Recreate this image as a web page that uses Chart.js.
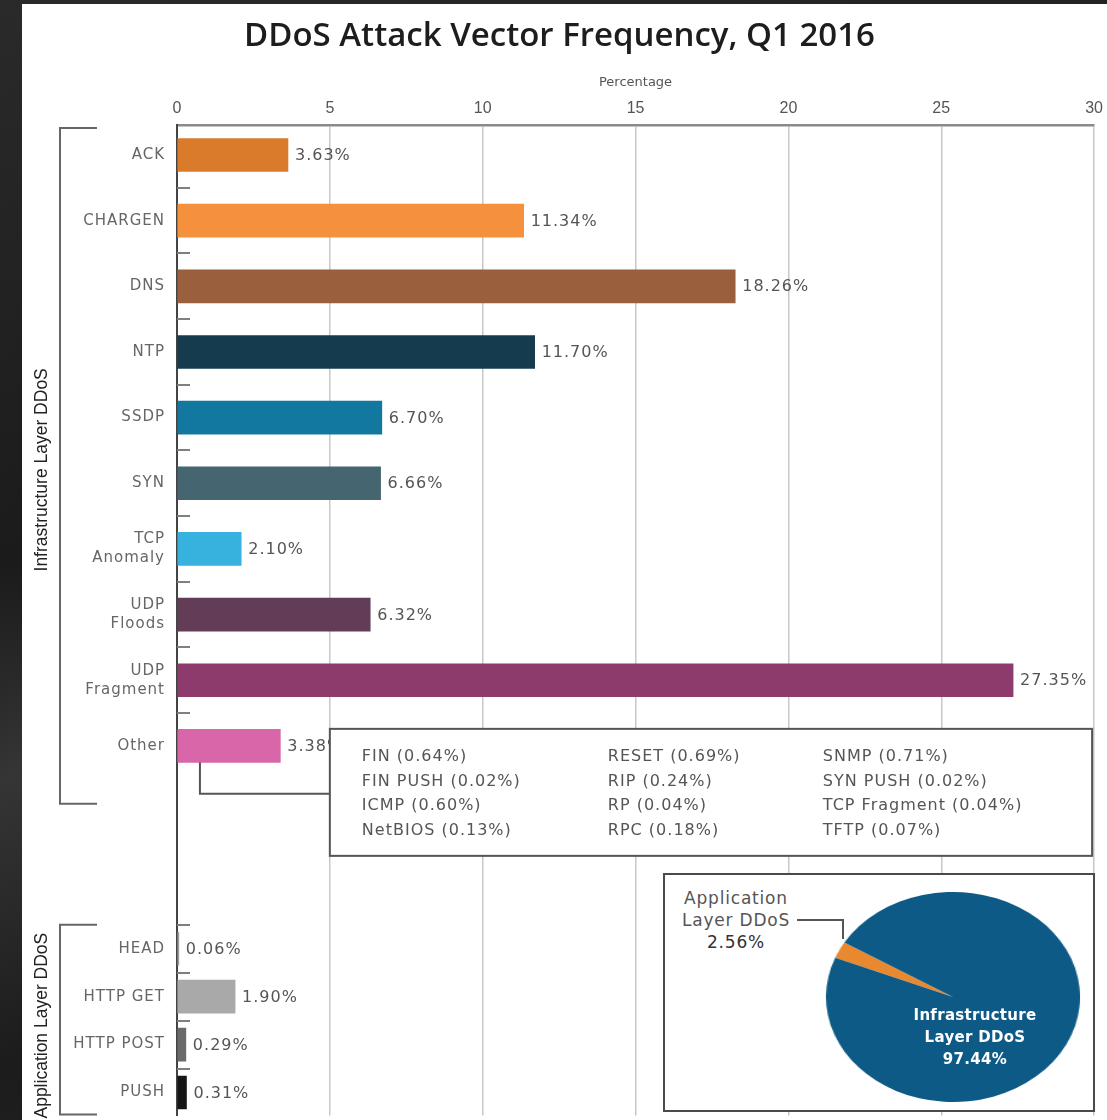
<!DOCTYPE html>
<html>
<head>
<meta charset="utf-8">
<title>DDoS Attack Vector Frequency, Q1 2016</title>
<script src="https://cdn.jsdelivr.net/npm/chart.js@4.4.1/dist/chart.umd.min.js"></script>
<style>
  html, body { margin: 0; padding: 0; width: 1107px; height: 1120px; overflow: hidden; }
  body { position: relative; background: linear-gradient(165deg, #2a2a2a 0%, #1b1b1b 40%, #353535 55%, #1c1c1c 75%, #262626 100%); }
  #panel { position: absolute; left: 22px; top: 4px; width: 1100px; height: 1140px; background: #fff; }
  #bars { position: absolute; left: 0; top: 0; }
  #pieBox { position: absolute; left: 641px; top: 869px; width: 428px; height: 235px; border: 2px solid #4a4a4a; background: #fff; }
  #pie { position: absolute; left: 183px; top: 17px; transform: scaleX(1.21); }
  .note { position: absolute; text-align: center; font: 17px "DejaVu Sans", sans-serif; letter-spacing: 0.8px; line-height: 22px; }
  #appNote { left: 0; top: 12px; width: 142px; color: #555; }
  #appNote b { font-weight: normal; color: #333; }
  #appLead { position: absolute; left: 132px; top: 44px; width: 45px; height: 18px; border-top: 2px solid #555; border-right: 2px solid #555; }
  #infraNote { left: 225px; top: 129px; width: 170px; color: #fff; font-weight: bold; font-size: 15px; letter-spacing: 0.3px; }
</style>
</head>
<body>
<div id="panel">
  <canvas id="bars" width="1088" height="1133"></canvas>
  <div id="pieBox">
    <canvas id="pie" width="210" height="210"></canvas>
    <div id="appNote" class="note"></div>
    <div id="appLead"></div>
    <div id="infraNote" class="note"></div>
  </div>
</div>
<script>
const infraLabels = ['ACK', 'CHARGEN', 'DNS', 'NTP', 'SSDP', 'SYN', ['TCP', 'Anomaly'], ['UDP', 'Floods'], ['UDP', 'Fragment'], 'Other'];
const infraValues = [3.63, 11.34, 18.26, 11.70, 6.70, 6.66, 2.10, 6.32, 27.35, 3.38];
const appLabels = ['HEAD', 'HTTP GET', 'HTTP POST', 'PUSH'];
const appValues = [0.06, 1.90, 0.29, 0.31];
const otherVectors = ['FIN', 'FIN PUSH', 'ICMP', 'NetBIOS', 'RESET', 'RIP', 'RP', 'RPC', 'SNMP', 'SYN PUSH', 'TCP Fragment', 'TFTP'];
const otherShares = [0.64, 0.02, 0.60, 0.13, 0.69, 0.24, 0.04, 0.18, 0.71, 0.02, 0.04, 0.07];
const layerLabels = ['Application Layer DDoS', 'Infrastructure Layer DDoS'];
const layerShares = [2.56, 97.44];

const infraColors = ['#d97b2b', '#f5913c', '#9a5f3c', '#143c4e', '#13789f', '#456570', '#37b1de', '#633c58', '#8d3a6c', '#d866a8'];
const appColors = ['#9a9a9a', '#a9a9a9', '#6a6a6a', '#151515'];
const layerColors = ['#e8892f', '#0d5a87'];

// infrastructure rows sit one unit apart, application rows are packed tighter below a gap
const APP_START = 12.09;
const APP_STEP = 0.73;
const BAR = 33;

const rowPos = infraValues.map((v, i) => i).concat(appValues.map((v, j) => APP_START + j * APP_STEP));
const rowLabels = infraLabels.concat(appLabels);
const values = infraValues.concat(appValues);
const pct = v => v.toFixed(2) + '%';

// wider tracking for the category names
const spacedLabels = {
  id: 'spacedLabels',
  beforeDraw(chart) {
    const ys = chart.scales.y;
    if (ys.drawLabels.spaced) return;
    const base = ys.drawLabels;
    ys.drawLabels = function (area) {
      this.ctx.save();
      this.ctx.letterSpacing = '1px';
      base.call(this, area);
      this.ctx.restore();
    };
    ys.drawLabels.spaced = true;
  }
};

const decorations = {
  id: 'decorations',
  afterDraw(chart) {
    const { ctx, chartArea: area, scales: { x, y } } = chart;
    const bars = chart.getDatasetMeta(0).data;
    ctx.save();

    // short marks between rows on the category axis
    ctx.strokeStyle = '#808080';
    ctx.lineWidth = 2;
    const marks = [];
    for (let i = 1; i < infraValues.length; i++) marks.push(i - 0.5);
    for (let j = 0; j < appValues.length; j++) marks.push(APP_START + (j - 0.5) * APP_STEP);
    marks.forEach(v => {
      const py = Math.round(y.getPixelForValue(v));
      ctx.beginPath();
      ctx.moveTo(area.left, py);
      ctx.lineTo(area.left + 13, py);
      ctx.stroke();
    });

    // value at the end of each bar
    ctx.font = '16px "DejaVu Sans"';
    ctx.letterSpacing = '1px';
    ctx.fillStyle = '#555';
    ctx.textAlign = 'left';
    ctx.textBaseline = 'middle';
    bars.forEach((bar, i) => ctx.fillText(pct(values[i]), bar.x + 7, bar.y + 1));

    // group brackets on the left
    const bx = area.left - 117;
    const groups = [
      { name: 'Infrastructure Layer DDoS', top: area.top + 3, bottom: y.getPixelForValue(infraValues.length - 0.5) + 25, shift: 4 },
      { name: 'Application Layer DDoS', top: y.getPixelForValue(APP_START - APP_STEP / 2), bottom: area.bottom - 1, shift: 6 }
    ];
    ctx.strokeStyle = '#666';
    ctx.lineWidth = 2;
    ctx.letterSpacing = '0px';
    ctx.font = '17.5px "Liberation Sans"';
    ctx.fillStyle = '#222';
    ctx.textAlign = 'center';
    groups.forEach(g => {
      ctx.beginPath();
      ctx.moveTo(bx + 37, g.top);
      ctx.lineTo(bx, g.top);
      ctx.lineTo(bx, g.bottom);
      ctx.lineTo(bx + 37, g.bottom);
      ctx.stroke();
      ctx.save();
      ctx.translate(bx - 18, (g.top + g.bottom) / 2 + g.shift);
      ctx.rotate(-Math.PI / 2);
      ctx.fillText(g.name, 0, 0);
      ctx.restore();
    });

    // breakdown of the "Other" bar
    const other = bars[infraValues.length - 1];
    const boxL = x.getPixelForValue(5);
    const boxT = y.getPixelForValue(infraValues.length - 1) - 17;
    const boxW = area.right - 2 - boxL;
    const boxH = 127;
    ctx.fillStyle = '#fff';
    ctx.fillRect(boxL, boxT, boxW, boxH);
    ctx.strokeStyle = '#555';
    ctx.strokeRect(boxL, boxT, boxW, boxH);
    const lx = x.getPixelForValue(0.75);
    ctx.beginPath();
    ctx.moveTo(lx, other.y + BAR / 2);
    ctx.lineTo(lx, boxT + 65);
    ctx.lineTo(boxL, boxT + 65);
    ctx.stroke();

    ctx.font = '16px "DejaVu Sans"';
    ctx.letterSpacing = '1px';
    ctx.fillStyle = '#555';
    ctx.textAlign = 'left';
    const colX = [32, 278, 493];
    otherVectors.forEach((name, k) => {
      const col = Math.floor(k / 4), row = k % 4;
      ctx.fillText(name + ' (' + pct(otherShares[k]) + ')', boxL + colX[col], boxT + 28 + row * 24.7);
    });
    ctx.restore();
  }
};

new Chart(document.getElementById('bars'), {
  type: 'bar',
  data: {
    datasets: [{
      data: values.map((v, i) => ({ x: v, y: rowPos[i] })),
      backgroundColor: infraColors.concat(appColors),
      barThickness: BAR,
      borderWidth: 0
    }]
  },
  options: {
    indexAxis: 'y',
    responsive: false,
    animation: false,
    layout: { padding: { left: 0, top: 0, right: 13, bottom: 0 } },
    scales: {
      x: {
        position: 'top',
        min: 0,
        max: 30,
        ticks: { stepSize: 5, padding: 7, color: '#555', font: { family: 'Liberation Sans', size: 16 } },
        grid: { color: '#c8c8c8', lineWidth: 1.5, drawTicks: false },
        border: { color: '#8a8a8a', width: 2.5 },
        title: { display: true, text: 'Percentage', color: '#555', padding: { top: 11, bottom: 0 }, font: { family: 'DejaVu Sans', size: 13 } },
        afterFit: scale => { scale.height = 60.8; }
      },
      y: {
        type: 'linear',
        reverse: true,
        offset: false,
        min: -0.457,
        max: 14.63,
        afterBuildTicks: scale => { scale.ticks = rowPos.map(v => ({ value: v })); },
        ticks: {
          autoSkip: false,
          padding: 12,
          color: '#666',
          font: { family: 'DejaVu Sans', size: 15, lineHeight: 1.27 },
          callback: (v, i) => rowLabels[i]
        },
        grid: { display: false, drawTicks: false },
        border: { color: '#444', width: 2 },
        afterFit: scale => { scale.width = 155; }
      }
    },
    plugins: {
      legend: { display: false },
      tooltip: { enabled: false },
      title: {
        display: true,
        text: 'DDoS Attack Vector Frequency, Q1 2016',
        color: '#1d1d1d',
        font: { family: 'Open Sans', size: 33, weight: 600 },
        padding: { top: 13.2, bottom: 7.4 }
      }
    }
  },
  plugins: [spacedLabels, decorations]
});

new Chart(document.getElementById('pie'), {
  type: 'pie',
  data: {
    labels: layerLabels,
    datasets: [{ data: layerShares, backgroundColor: layerColors, borderWidth: 0 }]
  },
  options: {
    responsive: false,
    animation: false,
    rotation: 292,
    layout: { padding: 0 },
    plugins: { legend: { display: false }, tooltip: { enabled: false } }
  }
});

document.getElementById('appNote').innerHTML = 'Application<br>Layer DDoS<br><b>' + pct(layerShares[0]) + '</b>';
document.getElementById('infraNote').innerHTML = 'Infrastructure<br>Layer DDoS<br>' + pct(layerShares[1]);
</script>
</body>
</html>
